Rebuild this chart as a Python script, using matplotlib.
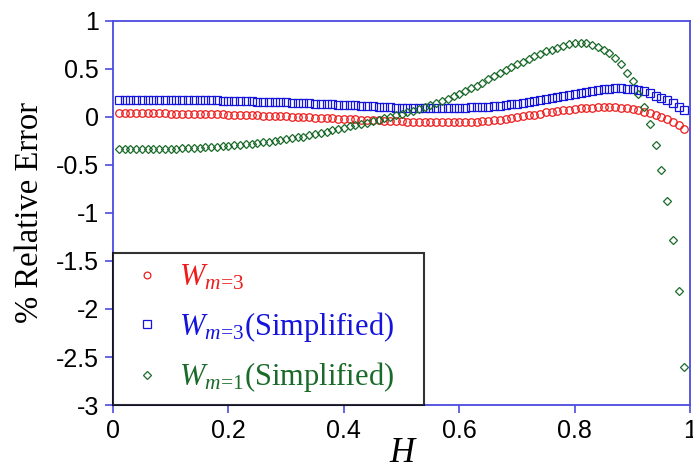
import numpy as np
import matplotlib
matplotlib.use("Agg")
import matplotlib.pyplot as plt

plt.rcParams['mathtext.fontset'] = 'custom'
plt.rcParams['mathtext.rm'] = 'Liberation Serif'
plt.rcParams['mathtext.it'] = 'Liberation Serif:italic'

H = np.arange(1, 100) / 100.0

w_m3 = [0.035, 0.035, 0.035, 0.035, 0.035, 0.035, 0.035, 0.035, 0.035, 0.03,
        0.03, 0.03, 0.03, 0.03, 0.03, 0.025, 0.025, 0.025, 0.025, 0.02,
        0.02, 0.02, 0.015, 0.015, 0.015, 0.01, 0.01, 0.01, 0.005, 0.005,
        0.0, 0.0, -0.005, -0.005, -0.01, -0.01, -0.015, -0.015, -0.02, -0.02,
        -0.025, -0.025, -0.03, -0.03, -0.035, -0.035, -0.04, -0.04, -0.045, -0.045,
        -0.05, -0.05, -0.05, -0.055, -0.055, -0.055, -0.055, -0.055, -0.055, -0.055,
        -0.055, -0.05, -0.05, -0.045, -0.04, -0.035, -0.03, -0.02, -0.01, -0.005,
        0.005, 0.015, 0.02, 0.03, 0.045, 0.05, 0.06, 0.07, 0.075, 0.08,
        0.09, 0.095, 0.095, 0.10, 0.10, 0.10, 0.10, 0.095, 0.09, 0.085,
        0.07, 0.055, 0.04, 0.02, 0.0, -0.025, -0.05, -0.09, -0.13]

w_m3_simp = [0.18, 0.18, 0.18, 0.18, 0.18, 0.18, 0.18, 0.18, 0.18, 0.18,
             0.175, 0.175, 0.175, 0.175, 0.17, 0.17, 0.17, 0.17, 0.165, 0.165,
             0.165, 0.16, 0.16, 0.16, 0.155, 0.155, 0.155, 0.15, 0.15, 0.15,
             0.145, 0.145, 0.14, 0.14, 0.135, 0.135, 0.13, 0.13, 0.125, 0.125,
             0.12, 0.12, 0.115, 0.11, 0.11, 0.105, 0.10, 0.10, 0.095, 0.095,
             0.095, 0.09, 0.09, 0.09, 0.09, 0.09, 0.09, 0.09, 0.09, 0.095,
             0.095, 0.10, 0.10, 0.105, 0.105, 0.11, 0.115, 0.12, 0.13, 0.135,
             0.145, 0.155, 0.165, 0.175, 0.185, 0.195, 0.205, 0.215, 0.23, 0.24,
             0.25, 0.26, 0.27, 0.28, 0.285, 0.29, 0.295, 0.295, 0.29, 0.29,
             0.28, 0.265, 0.245, 0.22, 0.195, 0.17, 0.14, 0.105, 0.07]

w_m1_simp = [-0.34, -0.34, -0.34, -0.34, -0.34, -0.335, -0.335, -0.335, -0.33, -0.33,
             -0.33, -0.325, -0.325, -0.32, -0.32, -0.315, -0.31, -0.31, -0.305, -0.30,
             -0.295, -0.29, -0.285, -0.28, -0.275, -0.265, -0.26, -0.25, -0.245, -0.235,
             -0.225, -0.215, -0.205, -0.19, -0.18, -0.165, -0.155, -0.14, -0.13, -0.115,
             -0.10, -0.09, -0.075, -0.06, -0.045, -0.03, -0.015, 0.0, 0.015, 0.03,
             0.045, 0.065, 0.085, 0.105, 0.125, 0.145, 0.165, 0.19, 0.215, 0.24,
             0.265, 0.295, 0.325, 0.355, 0.39, 0.42, 0.455, 0.49, 0.52, 0.55,
             0.575, 0.60, 0.63, 0.655, 0.68, 0.70, 0.72, 0.74, 0.755, 0.765,
             0.77, 0.765, 0.75, 0.73, 0.70, 0.66, 0.615, 0.55, 0.46, 0.37,
             0.24, 0.10, -0.08, -0.29, -0.555, -0.875, -1.285, -1.81, -2.6]

labels = [r'$W_{m\!=\!3}$',
          r'$W_{m\!=\!3}$(Simplified)',
          r'$W_{m\!=\!1}$(Simplified)']
colors = ['#ee1c1c', '#1414dd', '#1a6b2a']
xticks = [0, 0.2, 0.4, 0.6, 0.8, 1]
yticks = [-3, -2.5, -2, -1.5, -1, -0.5, 0, 0.5, 1]

fig = plt.figure(figsize=(6.93, 4.71), dpi=100)
ax = fig.add_axes([0.163, 0.140, 0.833, 0.816])

ax.plot(H, w_m3, 'o', ls='none', ms=5.4, mfc='none', mec=colors[0], mew=0.9, label=labels[0])
ax.plot(H, w_m3_simp, 's', ls='none', ms=5.8, mfc='none', mec=colors[1], mew=0.9, label=labels[1])
ax.plot(H, w_m1_simp, 'D', ls='none', ms=4.4, mfc='none', mec=colors[2], mew=0.9, label=labels[2])

ax.set_xlim(0, 1)
ax.set_ylim(-3, 1)
ax.set_xticks(xticks)
ax.set_yticks(yticks)
ax.set_xticklabels(['0', '0.2', '0.4', '0.6', '0.8', '1'])
ax.set_yticklabels(['-3', '-2.5', '-2', '-1.5', '-1', '-0.5', '0', '0.5', '1'])

spine_c = '#4b4be0'
for s in ax.spines.values():
    s.set_color(spine_c)
    s.set_linewidth(1.3)
ax.tick_params(direction='out', length=6, width=1.2, color=spine_c, labelsize=18, pad=4)
for t in ax.get_xticklabels() + ax.get_yticklabels():
    t.set_family('Liberation Sans')

ax.set_xlabel('H', fontsize=25, fontstyle='italic', family='Liberation Serif', labelpad=-4)
ax.set_ylabel('% Relative Error', fontsize=23.5, family='Liberation Serif', labelpad=8)

leg = ax.legend(loc='lower left', bbox_to_anchor=(0, 0, 0.539, 0.395), mode='expand',
                prop={'family': 'Liberation Serif', 'size': 22}, fancybox=False,
                frameon=True, borderaxespad=0, handletextpad=0.3, handlelength=1.5,
                labelspacing=0.55, markerscale=0.9, borderpad=0.35)
leg.get_frame().set_edgecolor('black')
leg.get_frame().set_linewidth(1.5)
for t, c in zip(leg.get_texts(), colors):
    t.set_color(c)

plt.savefig("out.png", dpi=100)
